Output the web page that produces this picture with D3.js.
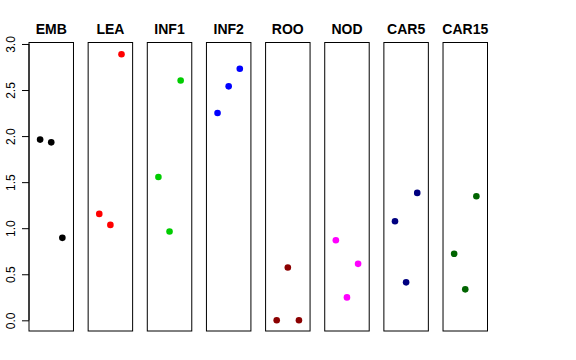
<!DOCTYPE html>
<html>
<head>
<meta charset="utf-8">
<script src="https://cdn.jsdelivr.net/npm/d3@7"></script>
<style>
html,body{margin:0;padding:0;background:#fff;}
svg{display:block;font-family:"Liberation Sans",Arial,Helvetica,sans-serif;}
</style>
</head>
<body>
<svg id="chart" width="576" height="360"></svg>
<script>
const categories = ["EMB","LEA","INF1","INF2","ROO","NOD","CAR5","CAR15"];
const colors = ["#000000","#FF0000","#00CD00","#0000FF","#8B0000","#FF00FF","#000080","#006400"];
const valuesLeft   = [1.962, 1.155, 1.556, 2.250, 0.000, 0.870, 1.076, 0.722];
const valuesMiddle = [1.932, 1.036, 0.964, 2.540, 0.574, 0.249, 0.412, 0.336];
const valuesRight  = [0.895, 2.889, 2.604, 2.731, 0.000, 0.613, 1.383, 1.347];
const yTicks = [0, 0.5, 1.0, 1.5, 2.0, 2.5, 3.0];

(function () {
const svg = d3.select("#chart");
const plotTop = 42.5, plotBottom = 331;

const x = d3.scaleBand().domain(categories).range([29, 487.5]).paddingInner(0.248).paddingOuter(0);
const y = d3.scaleLinear().domain([-0.116, 3.016]).range([plotBottom, plotTop]);
const xi = d3.scaleLinear().domain([0, 4]).range([0, x.bandwidth()]);

// y axis
const yAxis = d3.axisLeft(y).tickValues(yTicks).tickFormat(d3.format(".1f")).tickSize(7).tickSizeOuter(0);
const ag = svg.append("g").attr("transform", "translate(29,0)").call(yAxis);
ag.select(".domain").attr("stroke", "#000").attr("d", `M0,${y(0)}V${y(3)}`);
ag.selectAll(".tick line").attr("stroke", "#000");
ag.selectAll(".tick text")
  .attr("font-size", 12).attr("font-family", "Liberation Sans, Arial, sans-serif")
  .attr("fill", "#000")
  .attr("text-anchor", "middle")
  .attr("x", null).attr("dy", null)
  .attr("transform", "translate(-14,0) rotate(-90)");

// panels
const data = categories.map((c, i) => ({
  cat: c, color: colors[i],
  pts: [valuesLeft[i], valuesMiddle[i], valuesRight[i]]
}));

const panels = svg.selectAll("g.panel").data(data).enter().append("g")
  .attr("class", "panel")
  .attr("transform", d => `translate(${x(d.cat)},0)`);

panels.append("rect")
  .attr("x", 0).attr("y", plotTop)
  .attr("width", x.bandwidth()).attr("height", plotBottom - plotTop)
  .attr("fill", "none").attr("stroke", "#000").attr("stroke-width", 1);

panels.append("text")
  .attr("x", x.bandwidth() / 2).attr("y", 34)
  .attr("text-anchor", "middle")
  .attr("font-weight", "bold").attr("font-size", 14)
  .text(d => d.cat);

panels.selectAll("circle").data(d => d.pts.map((v, j) => ({v, j, color: d.color}))).enter()
  .append("circle")
  .attr("cx", d => xi(d.j + 1))
  .attr("cy", d => y(d.v))
  .attr("r", 3.3)
  .attr("fill", d => d.color);
})();
</script>
</body>
</html>
